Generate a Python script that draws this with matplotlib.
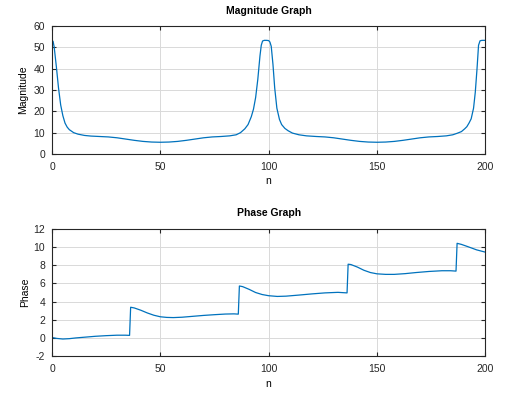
import matplotlib.pyplot as plt

# magnitude
mag_n = [0, 0.5, 1, 2, 3, 4, 5, 6, 7, 8, 10, 12, 15, 18, 22, 26, 30, 34, 38, 42, 46, 50,
         54, 58, 62, 66, 70, 74, 78, 82, 85, 87, 89, 90.5, 92, 93, 94, 95, 96, 96.6, 97.2,
         98, 99, 100, 100.6, 101.2, 102, 102.8, 103.8, 105, 106, 107.5, 109, 111, 114,
         117.5, 122, 126, 130, 134, 138, 142, 146, 150, 154, 158, 162, 166, 170, 174, 178,
         182, 185, 187, 189, 190.5, 191.5, 192.5, 193.5, 194.6, 195.4, 196.2, 196.9,
         197.6, 198.5, 200]
mag = [53.3, 52.8, 50.2, 41, 31, 23, 18, 14.5, 12.6, 11.4, 10.0, 9.3, 8.7, 8.4, 8.2, 8.0,
       7.6, 7.0, 6.4, 5.9, 5.6, 5.5, 5.6, 5.9, 6.4, 7.0, 7.6, 8.0, 8.2, 8.5, 9.0, 10.0,
       11.8, 13.8, 17.5, 21, 26.5, 35, 46, 51, 53.0, 53.3, 53.3, 53.2, 52.5, 50.5, 42, 31,
       21.5, 16.2, 13.8, 12, 10.9, 9.8, 9.0, 8.5, 8.2, 8.0, 7.6, 7.0, 6.4, 5.9, 5.6, 5.5,
       5.6, 5.9, 6.4, 7.0, 7.6, 8.0, 8.2, 8.5, 9.0, 9.7, 10.5, 11.8, 12.8, 14.5, 16.5,
       21.5, 29, 40, 51, 53.1, 53.3, 53.3]

# phase
ph_n = [0, 2, 5, 8, 11, 15, 20, 25, 30, 34, 35.8, 36.3, 38, 41, 44, 47, 50, 53, 56, 60, 65,
        70, 75, 80, 84, 86, 86.5, 88, 91, 94, 97, 100, 104, 108, 114, 120, 126, 132, 136.2,
        136.7, 138, 141, 144, 147, 150, 154, 158, 163, 168, 174, 180, 184, 186.5, 187, 189,
        192, 196, 200]
phase = [0.05, -0.05, -0.12, -0.08, 0.0, 0.08, 0.18, 0.25, 0.3, 0.3, 0.28, 3.38, 3.3, 3.05,
         2.75, 2.5, 2.33, 2.26, 2.24, 2.28, 2.38, 2.48, 2.56, 2.63, 2.65, 2.62, 5.72, 5.65,
         5.35, 5.0, 4.78, 4.65, 4.57, 4.6, 4.72, 4.85, 4.96, 5.02, 4.96, 8.12, 8.08, 7.8,
         7.45, 7.2, 7.06, 7.0, 7.0, 7.08, 7.2, 7.32, 7.4, 7.4, 7.36, 10.42, 10.3, 10.05,
         9.7, 9.45]

blue = '#0072BD'
plt.rcParams['font.family'] = ['Liberation Sans', 'DejaVu Sans']
plt.rcParams['font.size'] = 7.5
plt.rcParams['axes.unicode_minus'] = False

fig = plt.figure(figsize=(5.17, 4.01), dpi=100)
ax1 = fig.add_axes([0.1006, 0.616, 0.838, 0.319])
ax2 = fig.add_axes([0.1006, 0.112, 0.838, 0.317])


def style(ax):
    ax.grid(True, color='#d9d9d9', linewidth=0.7)
    ax.set_axisbelow(True)
    ax.tick_params(direction='in', top=True, right=True, length=3,
                   colors='#262626', labelsize=7.5)
    ax.tick_params(axis='x', pad=6)
    ax.tick_params(axis='y', pad=5)
    for s in ax.spines.values():
        s.set_color('#262626')
        s.set_linewidth(0.8)
    ax.set_xlim(0, 200)
    ax.set_xticks([0, 50, 100, 150, 200])


ax1.plot(mag_n, mag, color=blue, linewidth=0.9)
style(ax1)
ax1.set_ylim(0, 60)
ax1.set_yticks(range(0, 61, 10))
ax1.set_title('Magnitude Graph', fontweight='bold', fontsize=7.5, pad=9)
ax1.set_xlabel('n', labelpad=3)
ax1.set_ylabel('Magnitude')
ax1.yaxis.set_label_coords(-0.055, 0.5)

ax2.plot(ph_n, phase, color=blue, linewidth=0.9)
style(ax2)
ax2.set_ylim(-2, 12)
ax2.set_yticks(range(-2, 13, 2))
ax2.set_title('Phase Graph', fontweight='bold', fontsize=7.5, pad=9)
ax2.set_xlabel('n', labelpad=3)
ax2.set_ylabel('Phase')
ax2.yaxis.set_label_coords(-0.051, 0.5)

fig.savefig('out.png', dpi=100)
